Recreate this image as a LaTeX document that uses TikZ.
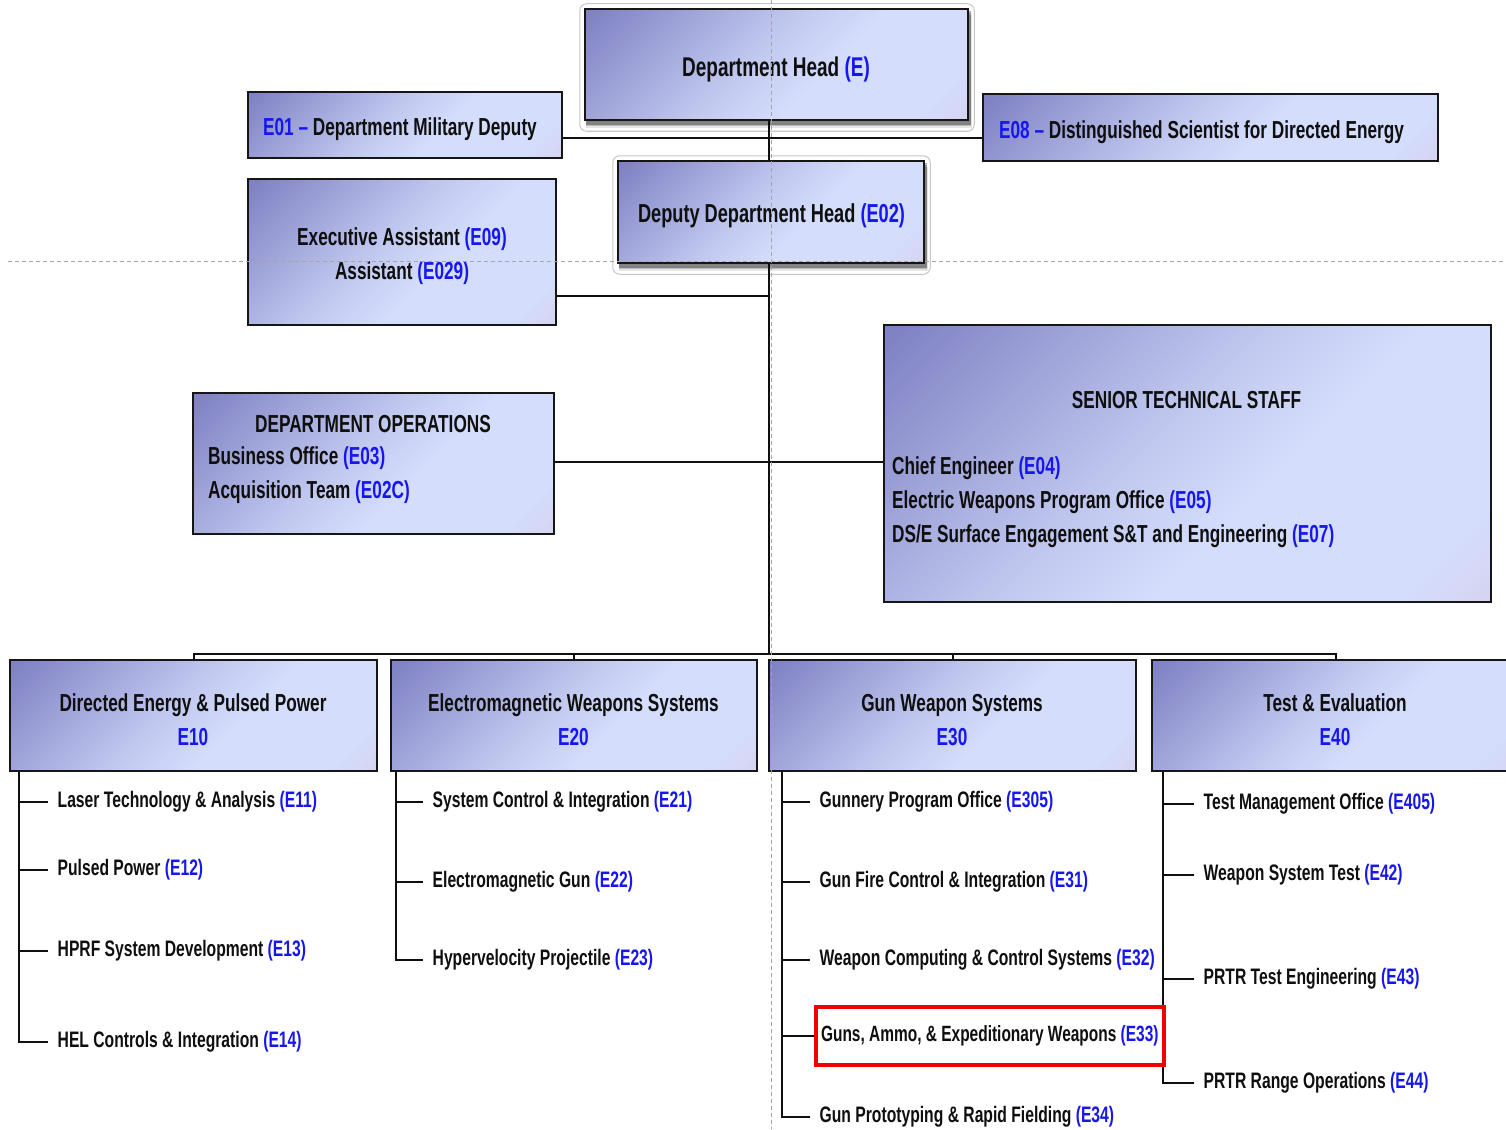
\documentclass[tikz,border=0pt]{standalone}
\usepackage{fontspec}
\newfontfamily\orgfont{Liberation Sans}[FakeStretch=0.70]
\usetikzlibrary{calc}

\definecolor{codeblue}{RGB}{22,22,238}
\definecolor{ink}{RGB}{15,15,15}
\definecolor{boxline}{RGB}{22,22,22}
\definecolor{guide}{RGB}{165,165,165}
\definecolor{shA}{RGB}{128,130,196}
\definecolor{shB}{RGB}{194,201,240}
\definecolor{shC}{RGB}{212,221,252}
\definecolor{shD}{RGB}{214,208,236}
\definecolor{hilite}{RGB}{240,0,0}

\pgfdeclarehorizontalshading{boxshade}{100bp}{%
  color(0bp)=(shA); color(16bp)=(shA); color(46bp)=(shB);
  color(58bp)=(shC); color(78bp)=(shC); color(88bp)=(shD); color(100bp)=(shD)}

\pgfdeclarelayer{bg}
\pgfdeclarelayer{fg}
\pgfsetlayers{bg,main,fg}

\newcommand\code[1]{\textcolor{codeblue}{#1}}

\tikzset{
  orgbox/.style={draw=boxline, line width=2.5pt, shading=boxshade,
                 shading angle=-45, inner sep=0pt},
  link/.style={draw=ink, line width=2pt},
  guideline/.style={draw=guide, line width=1pt, dash pattern=on 4pt off 3pt},
  lbl/.style={text=ink, inner sep=0pt, yshift=-2pt,
              font=\orgfont\bfseries\fontsize{24.6}{34}\selectfont},
  headlbl/.style={lbl, font=\orgfont\bfseries\fontsize{27.1}{34}\selectfont},
  deplbl/.style={lbl, font=\orgfont\bfseries\fontsize{26}{34}\selectfont},
  unitlbl/.style={lbl, align=center},
  sub/.style={text=ink, anchor=west, inner xsep=9.5pt, inner ysep=0pt,
              font=\orgfont\bfseries\fontsize{22.4}{28}\selectfont},
  frame/.style={draw=black!22, line width=1pt, rounded corners=7pt},
}

\begin{document}
\begin{tikzpicture}[x=1pt,y=-1pt]
\useasboundingbox (0,0) rectangle (1506,1129);
\begin{pgfonlayer}{bg}
  \fill[white] (0,0) rectangle (1506,1129);
\end{pgfonlayer}

% ---------- boxes ----------
\node[orgbox, minimum width=383pt, minimum height=111pt] (head)   at (776.5,64.5) {};
\node[orgbox, minimum width=314pt, minimum height=66pt]  (e01)    at (405,125) {};
\node[orgbox, minimum width=455pt, minimum height=67pt]  (e08)    at (1210.5,127.5) {};
\node[orgbox, minimum width=308pt, minimum height=146pt] (exec)   at (402,252) {};
\node[orgbox, minimum width=306pt, minimum height=102pt] (deputy) at (771,212) {};
\node[orgbox, minimum width=361pt, minimum height=141pt] (ops)    at (373.5,463.5) {};
\node[orgbox, minimum width=607pt, minimum height=277pt] (senior) at (1187.5,463.5) {};
\node[orgbox, minimum width=367pt, minimum height=111pt] (e10)    at (193.5,715.5) {};
\node[orgbox, minimum width=366pt, minimum height=111pt] (e20)    at (574,715.5) {};
\node[orgbox, minimum width=367pt, minimum height=111pt] (e30)    at (952.5,715.5) {};
\node[orgbox, minimum width=367pt, minimum height=111pt] (e40)    at (1335.5,715.5) {};

% ---------- shadows and frames of the two head boxes ----------
\begin{pgfonlayer}{bg}
  \foreach \b in {head,deputy}{
    \foreach \o/\op in {7/0.10,5/0.18,3.5/0.30}{
      \fill[black, opacity=\op] ($(\b.north west)+(2,\o)$) rectangle ($(\b.south east)+(\o*0.4,\o)$);
    }
    \draw[frame] ($(\b.north west)+(-4,-4)$) rectangle ($(\b.south east)+(5,10)$);
  }
\end{pgfonlayer}

% ---------- texts in the boxes ----------
\node[headlbl] (headT) at (776,67) {Department Head \code{(E)}};
\node[lbl] (e01T) at (400,127) {\code{E01 –} Department Military Deputy};
\node[lbl] (e08T) at (1201.5,130) {\code{E08 –} Distinguished Scientist for Directed Energy};
\node[deplbl] (deputyT) at (771.5,214) {Deputy Department Head \code{(E02)}};
\node[lbl, align=center] (execT) at (402,254) {Executive Assistant \code{(E09)}\\Assistant \code{(E029)}};

\node[lbl] (opsT) at (373,422) {DEPARTMENT OPERATIONS};
\node[lbl, anchor=west] (e03) at (208,456) {Business Office \code{(E03)}};
\node[lbl, anchor=west] (e02c) at (208,490) {Acquisition Team \code{(E02C)}};

\node[lbl] (seniorT) at (1186.5,398) {SENIOR TECHNICAL STAFF};
\node[lbl, anchor=west] (e04) at (892,466) {Chief Engineer \code{(E04)}};
\node[lbl, anchor=west] (e05) at (892,500) {Electric Weapons Program Office \code{(E05)}};
\node[lbl, anchor=west] (e07) at (892,534) {DS/E Surface Engagement S\&T and Engineering \code{(E07)}};

\node[unitlbl] (e10T) at (193,718) {Directed Energy \& Pulsed Power\\\code{E10}};
\node[unitlbl] (e20T) at (573.5,718) {Electromagnetic Weapons Systems\\\code{E20}};
\node[unitlbl] (e30T) at (952,718) {Gun Weapon Systems\\\code{E30}};
\node[unitlbl] (e40T) at (1335,718) {Test \& Evaluation\\\code{E40}};

% ---------- branch offices ----------
\node[sub] (e11) at (48,802)  {Laser Technology \& Analysis \code{(E11)}};
\node[sub] (e12) at (48,870)  {Pulsed Power \code{(E12)}};
\node[sub] (e13) at (48,951)  {HPRF System Development \code{(E13)}};
\node[sub] (e14) at (48,1042) {HEL Controls \& Integration \code{(E14)}};

\node[sub] (e21) at (423,802) {System Control \& Integration \code{(E21)}};
\node[sub] (e22) at (423,882) {Electromagnetic Gun \code{(E22)}};
\node[sub] (e23) at (423,960) {Hypervelocity Projectile \code{(E23)}};

\node[sub] (e305) at (810,802) {Gunnery Program Office \code{(E305)}};
\node[sub] (e31)  at (810,882) {Gun Fire Control \& Integration \code{(E31)}};
\node[sub] (e32)  at (810,960) {Weapon Computing \& Control Systems \code{(E32)}};
\node[sub, inner xsep=5pt, minimum height=58pt, draw=hilite, line width=4pt,
      font=\orgfont\bfseries\fontsize{22.1}{28}\selectfont]
      (e33) at (814,1036) {Guns, Ammo, \& Expeditionary Weapons \code{(E33)}};
\node[sub] (e34)  at (810,1117) {Gun Prototyping \& Rapid Fielding \code{(E34)}};

\node[sub] (e405) at (1194,804)  {Test Management Office \code{(E405)}};
\node[sub] (e42)  at (1194,875)  {Weapon System Test \code{(E42)}};
\node[sub] (e43)  at (1194,979)  {PRTR Test Engineering \code{(E43)}};
\node[sub] (e44)  at (1194,1083) {PRTR Range Operations \code{(E44)}};

% ---------- connectors ----------
\begin{pgfonlayer}{bg}
  \coordinate (spine) at (769,654);
  \coordinate (ruleA) at (0,138);
  \coordinate (execY) at (0,296);
  \coordinate (opsY)  at (0,462);
  \draw[link] (spine |- head.south) -- (spine);
  \draw[link] (e01.east |- ruleA) -- (e08.west |- ruleA);
  \draw[link] (exec.east |- execY) -- (spine |- execY);
  \draw[link] (ops.east |- opsY) -- (senior.west |- opsY);
  \draw[link] (e10.north) |- (spine) -| (e40.north);
  \draw[link] (e20.north) -- (e20.north |- spine);
  \draw[link] (e30.north) -- (e30.north |- spine);

  \coordinate (r1) at ($(e10.south west)+(10,0)$);
  \coordinate (r2) at ($(e20.south west)+(6,0)$);
  \coordinate (r3) at ($(e30.south west)+(14,0)$);
  \coordinate (r4) at ($(e40.south west)+(12,0)$);

  \draw[link] (r1) |- (e14.west);
  \foreach \n in {e11,e12,e13} \draw[link] (r1 |- \n.west) -- (\n.west);
  \draw[link] (r2) |- (e23.west);
  \foreach \n in {e21,e22} \draw[link] (r2 |- \n.west) -- (\n.west);
  \draw[link] (r3) |- (e34.west);
  \foreach \n in {e305,e31,e32,e33} \draw[link] (r3 |- \n.west) -- (\n.west);
  \draw[link] (r4) |- (e44.west);
  \foreach \n in {e405,e42,e43} \draw[link] (r4 |- \n.west) -- (\n.west);
\end{pgfonlayer}

% ---------- layout guides ----------
\begin{pgfonlayer}{fg}
  \draw[guideline] (771,0) -- (771,1129);
  \draw[guideline] (8,261) -- (1506,261);
\end{pgfonlayer}
\end{tikzpicture}
\end{document}
